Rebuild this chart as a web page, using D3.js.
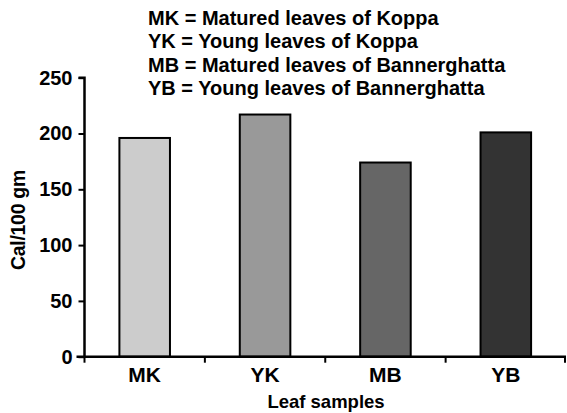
<!DOCTYPE html>
<html><head><meta charset="utf-8">
<script src="https://cdn.jsdelivr.net/npm/d3@7"></script>
<style>body{margin:0;background:#fff}svg{display:block}text{font-family:"Liberation Sans",Arial,sans-serif;font-weight:bold;fill:#000}</style>
</head><body><svg id="c" width="567" height="413"></svg>
<script>
const categories = ["MK","YK","MB","YB"];
const values = [196, 217, 174, 201];
const fills = ["#cccccc","#999999","#666666","#333333"];
const yTicks = [0,50,100,150,200,250];
const legendLines = ["MK = Matured leaves of Koppa","YK = Young leaves of Koppa","MB = Matured leaves of Bannerghatta","YB = Young leaves of Bannerghatta"];

const svg = d3.select("#c");
const pLeft = 84.5, pRight = 566, pTop = 77.7, pBottom = 356.7;
const x = d3.scaleBand().domain(categories).range([pLeft, pRight]).paddingInner(0.58).paddingOuter(0.29);
const y = d3.scaleLinear().domain([0,250]).range([pBottom, pTop]);

svg.selectAll("rect.bar").data(values).join("rect").attr("class","bar")
  .attr("x",(d,i)=>x(categories[i])).attr("width",x.bandwidth())
  .attr("y",d=>y(d)).attr("height",d=>pBottom-y(d))
  .attr("fill",(d,i)=>fills[i]).attr("stroke","#000").attr("stroke-width",2);

// y axis
const ya = svg.append("g").attr("transform",`translate(${pLeft},0)`)
  .call(d3.axisLeft(y).tickValues(yTicks).tickSize(6).tickPadding(6));
ya.select(".domain").attr("stroke-width",2.5).attr("d",`M-6,${pTop}H0V${pBottom}`);
ya.selectAll(".tick line").attr("stroke-width",2);
ya.selectAll(".tick text").style("font-size","20px").style("font-family","'Liberation Sans',Arial,sans-serif").style("font-weight","bold");

// x axis with boundary ticks
const xa = svg.append("g").attr("transform",`translate(0,${pBottom})`);
xa.append("line").attr("x1",pLeft-8).attr("x2",pRight).attr("y1",0).attr("y2",0).attr("stroke","#000").attr("stroke-width",2.5);
const bounds = d3.range(categories.length+1).map(i=>pLeft+i*(pRight-pLeft)/categories.length);
xa.selectAll("line.tk").data(bounds).join("line").attr("class","tk")
  .attr("x1",d=>Math.min(d,pRight-1)).attr("x2",d=>Math.min(d,pRight-1)).attr("y1",0).attr("y2",6)
  .attr("stroke","#000").attr("stroke-width",2);
xa.selectAll("text").data(categories).join("text")
  .attr("x",d=>x(d)+x.bandwidth()/2).attr("y",25.5).attr("text-anchor","middle")
  .style("font-size","21px").text(d=>d);

svg.append("text").attr("x",326).attr("y",408).attr("text-anchor","middle").style("font-size","18.5px").text("Leaf samples");
svg.append("text").attr("transform","translate(25,220) rotate(-90)").attr("text-anchor","middle").style("font-size","19.5px").attr("letter-spacing","-0.3").text("Cal/100 gm");

svg.selectAll("text.leg").data(legendLines).join("text").attr("class","leg")
  .attr("x",148).attr("y",(d,i)=>25+i*23.3).style("font-size","20px").text(d=>d);
</script></body></html>
